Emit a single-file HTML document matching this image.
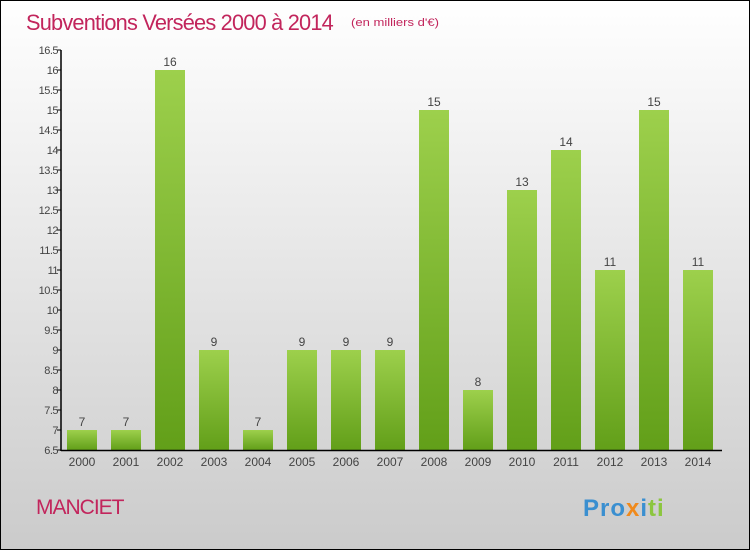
<!DOCTYPE html>
<html><head><meta charset="utf-8"><style>
body{margin:0;width:750px;height:550px;overflow:hidden;font-family:"Liberation Sans",sans-serif}
</style></head><body>
<svg width="750" height="550" xmlns="http://www.w3.org/2000/svg">
<defs>
<linearGradient id="bg" x1="0" y1="0" x2="0" y2="1"><stop offset="0" stop-color="#ffffff"/><stop offset="1" stop-color="#cbcbcb"/></linearGradient>
<linearGradient id="bar" x1="0" y1="0" x2="0" y2="1"><stop offset="0" stop-color="#9dd04c"/><stop offset="1" stop-color="#629f19"/></linearGradient>
</defs>
<rect x="0.5" y="0.5" width="749" height="549" fill="url(#bg)" stroke="#000"/>
<text x="26" y="30" font-size="22" fill="#c2255c" letter-spacing="-0.8" textLength="307" lengthAdjust="spacingAndGlyphs">Subventions Versées 2000 à 2014</text>
<text x="351" y="26" font-size="11" fill="#c2255c" textLength="88" lengthAdjust="spacingAndGlyphs">(en milliers d'€)</text>
<text x="36" y="514" font-size="21" fill="#c2255c" letter-spacing="-1">MANCIET</text>
<text x="583" y="516" font-size="24" font-weight="bold" letter-spacing="1"><tspan fill="#3a8fd0">Pro</tspan><tspan fill="#f08a1c">x</tspan><tspan fill="#3a8fd0">i</tspan><tspan fill="#8cc63f">ti</tspan></text>
<g id="plot"></g>
</svg>
<script>
const years=['2000','2001','2002','2003','2004','2005','2006','2007','2008','2009','2010','2011','2012','2013','2014'];
const values=[7,7,16,9,7,9,9,9,15,8,13,14,11,15,11];
const yTicks=[6.5,7,7.5,8,8.5,9,9.5,10,10.5,11,11.5,12,12.5,13,13.5,14,14.5,15,15.5,16,16.5];
const yMin=6.5,yMax=16.5;
const y=v=>450-(v-yMin)/(yMax-yMin)*400;
const x=i=>82+i*44;
const NS='http://www.w3.org/2000/svg';
const g=document.getElementById('plot');
function mk(t,a){const e=document.createElementNS(NS,t);for(const k in a)e.setAttribute(k,a[k]);g.appendChild(e);return e;}
values.forEach((v,i)=>{
 const r=mk('rect',{x:x(i)-15,y:y(v),width:30,height:450-y(v),fill:'url(#bar)'});
 
 
 const l=mk('text',{x:x(i),y:y(v)-4,'text-anchor':'middle','font-size':12,fill:'#444'});
 l.textContent=v;
 
 
 const t=mk('text',{x:x(i),y:466,'text-anchor':'middle','font-size':12,fill:'#444'});
 t.textContent=years[i];
 
 
});
yTicks.forEach(v=>{
 const tk=mk('line',{x1:57,x2:61,y1:y(v),y2:y(v),stroke:'#000'});
 
 
 const t=mk('text',{x:58,y:y(v)+4,'text-anchor':'end','font-size':11,fill:'#444','letter-spacing':'-0.5'});
 t.textContent=String(v);
 
 
});
const ya=mk('line',{x1:61,x2:61,y1:50,y2:451,stroke:'#000','stroke-width':1.5});


const xa=mk('line',{x1:61,x2:722,y1:450.5,y2:450.5,stroke:'#000','stroke-width':1.5});


</script>
</body></html>
